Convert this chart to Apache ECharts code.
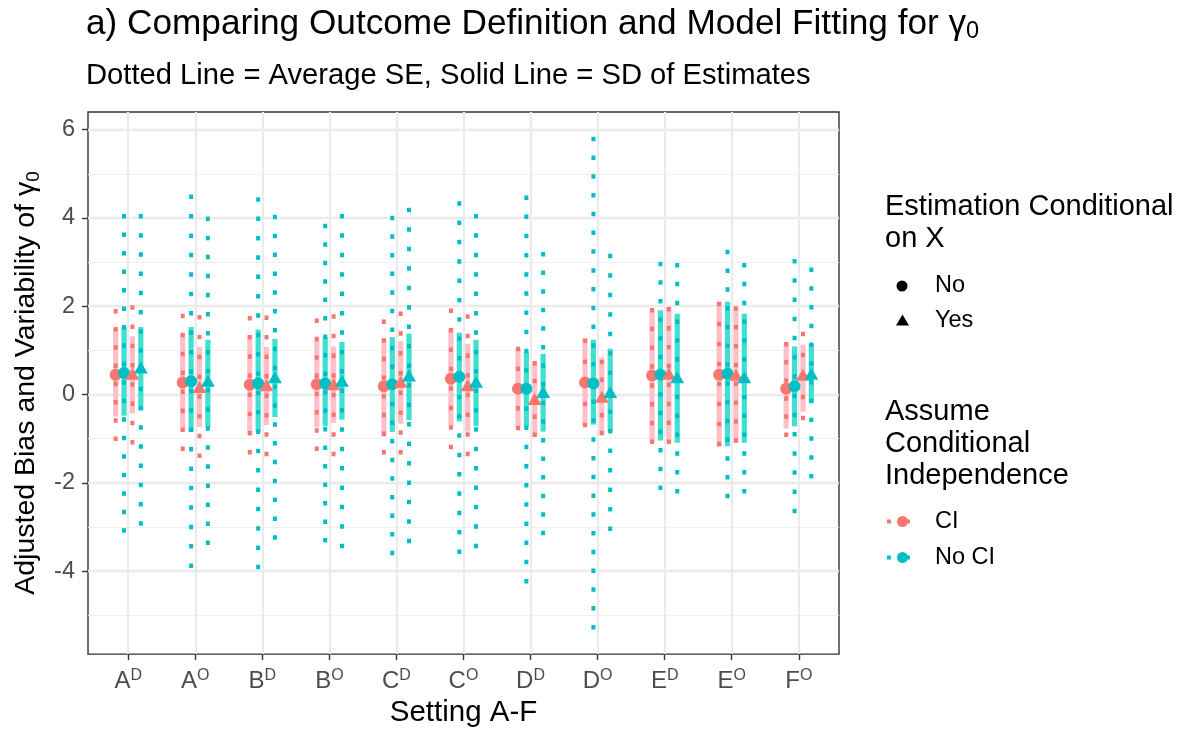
<!DOCTYPE html>
<html>
<head>
<meta charset="utf-8">
<title>Comparing Outcome Definition and Model Fitting</title>
<script src="https://cdn.jsdelivr.net/npm/echarts@6/dist/echarts.min.js"></script>
<style>
  html, body { margin: 0; padding: 0; background: #ffffff; }
  #main { width: 1182px; height: 733px; }
</style>
</head>
<body>
<div id="main"></div>
<script>
// Settings on the x axis: letter plus superscript (D / O)
const settingLetters = ['A', 'A', 'B', 'B', 'C', 'C', 'D', 'D', 'E', 'E', 'F'];
const settingMarks   = ['D', 'O', 'D', 'O', 'D', 'O', 'D', 'O', 'D', 'O', 'O'];

// y-axis tick labels and minor grid positions
const yTicks = [-4, -2, 0, 2, 4, 6];
const yMinorTicks = [-5, -3, -1, 1, 3, 5];

// CI, estimation not conditional on X
const ciNoEst  = [0.45, 0.27, 0.22, 0.23, 0.19, 0.36, 0.13, 0.27, 0.43, 0.45, 0.13];
const ciNoSdLo = [-0.50, -0.84, -0.88, -0.74, -0.96, -0.72, -0.76, -0.72, -1.08, -1.17, -0.77];
const ciNoSdHi = [1.50, 1.38, 1.34, 1.27, 1.26, 1.50, 1.05, 1.27, 1.94, 2.10, 1.17];
const ciNoSeLo = [-1.05, -1.28, -1.36, -1.28, -1.36, -1.24, -0.81, -0.74, -1.12, -1.17, -0.96];
const ciNoSeHi = [1.94, 1.83, 1.78, 1.72, 1.70, 1.95, 1.08, 1.27, 1.96, 2.10, 1.19];

// No CI, estimation not conditional on X
const nociNoEst  = [0.49, 0.30, 0.25, 0.25, 0.23, 0.40, 0.13, 0.25, 0.45, 0.47, 0.19];
const nociNoSdLo = [-0.48, -0.84, -0.84, -0.72, -0.85, -0.61, -0.72, -0.68, -1.04, -1.17, -0.72];
const nociNoSdHi = [1.53, 1.53, 1.47, 1.30, 1.30, 1.40, 0.97, 1.24, 1.91, 2.10, 1.09];
const nociNoSeLo = [-3.13, -3.93, -3.96, -3.35, -3.64, -3.61, -4.28, -5.32, -2.16, -2.35, -2.69];
const nociNoSeHi = [4.09, 4.53, 4.47, 3.87, 4.05, 4.38, 4.51, 5.84, 3.01, 3.28, 3.07];

// CI, estimation conditional on X
const ciYesEst  = [0.47, 0.17, 0.21, 0.23, 0.29, 0.21, -0.10, -0.05, 0.47, 0.45, 0.45];
const ciYesSdLo = [-0.43, -0.74, -0.69, -0.64, -0.66, -0.84, -0.96, -0.92, -1.09, -1.09, -0.39];
const ciYesSdHi = [1.32, 1.08, 1.08, 1.09, 1.21, 1.15, 0.73, 0.84, 1.98, 1.98, 1.13];
const ciYesSeLo = [-1.13, -1.44, -1.40, -1.40, -1.36, -1.40, -0.96, -0.92, -1.12, -1.09, -0.58];
const ciYesSeHi = [2.02, 1.80, 1.79, 1.82, 1.88, 1.82, 0.76, 0.79, 1.98, 2.00, 1.42];

// No CI, estimation conditional on X
const nociYesEst  = [0.61, 0.31, 0.39, 0.31, 0.43, 0.29, 0.06, 0.06, 0.39, 0.39, 0.47];
const nociYesSdLo = [-0.35, -0.74, -0.51, -0.57, -0.58, -0.72, -0.84, -0.84, -1.09, -1.09, -0.18];
const nociYesSdHi = [1.53, 1.24, 1.26, 1.19, 1.38, 1.24, 0.92, 1.04, 1.83, 1.83, 1.15];
const nociYesSeLo = [-2.97, -3.41, -3.29, -3.48, -3.37, -3.48, -3.19, -3.09, -2.24, -2.24, -1.90];
const nociYesSeHi = [4.09, 4.03, 4.07, 4.09, 4.23, 4.09, 3.23, 3.19, 2.98, 2.98, 2.88];

const FONT = '"Liberation Sans", Arial, Helvetica, sans-serif';
const RED = '#F8766D';
const TEAL = '#00BFC4';
const Y_MIN = -5.88;
const Y_MAX = 6.40;
const DASH = 4.5;      // dotted-line dash length (px)
const PERIOD = 19;     // nominal dash + gap (px)

// Dodged groups within each setting
const groups = [
  { name: 'CI / No',     est: ciNoEst,    sd: [ciNoSdLo, ciNoSdHi],       se: [ciNoSeLo, ciNoSeHi],       offset: -0.1875, color: RED,  band: '#FFC0CB', symbol: 'circle' },
  { name: 'No CI / No',  est: nociNoEst,  sd: [nociNoSdLo, nociNoSdHi],   se: [nociNoSeLo, nociNoSeHi],   offset: -0.0625, color: TEAL, band: '#40E0D0', symbol: 'circle' },
  { name: 'CI / Yes',    est: ciYesEst,   sd: [ciYesSdLo, ciYesSdHi],     se: [ciYesSeLo, ciYesSeHi],     offset:  0.0625, color: RED,  band: '#FFC0CB', symbol: 'triangle' },
  { name: 'No CI / Yes', est: nociYesEst, sd: [nociYesSdLo, nociYesSdHi], se: [nociYesSeLo, nociYesSeHi], offset:  0.1875, color: TEAL, band: '#40E0D0', symbol: 'triangle' }
];

// Dash pattern stretched so that both ends of a dotted segment carry a dash
function fittedDash(len) {
  if (len <= DASH * 2) return null;
  const n = Math.max(1, Math.round((len - DASH) / PERIOD));
  return [DASH, (len - DASH) / n - DASH];
}

// Vertical range segment drawn through the grid's scales
function rangeSeries(name, offset, lo, hi, color, width, dotted, z) {
  return {
    type: 'custom',
    name: name,
    silent: true,
    z: z,
    data: lo.map((l, i) => [i + offset, l, hi[i]]),
    encode: { x: 0, y: [1, 2] },
    renderItem: function (params, api) {
      const top = api.coord([api.value(0), api.value(2)]);
      const bottom = api.coord([api.value(0), api.value(1)]);
      const len = Math.abs(bottom[1] - top[1]);
      return {
        type: 'line',
        shape: { x1: top[0], y1: top[1], x2: bottom[0], y2: bottom[1] },
        style: {
          stroke: color, lineWidth: width, lineCap: 'butt', fill: null,
          lineDash: dotted ? fittedDash(len) : null
        }
      };
    }
  };
}

const seriesList = [];
groups.forEach(g => seriesList.push(rangeSeries(g.name + ' SD', g.offset, g.sd[0], g.sd[1], g.band, 5.2, false, 2)));
groups.forEach(g => seriesList.push(rangeSeries(g.name + ' SE', g.offset, g.se[0], g.se[1], g.color, 4, true, 3)));
groups.forEach(g => seriesList.push({
  type: 'scatter',
  name: g.name,
  silent: true,
  z: 4,
  symbol: g.symbol,
  symbolSize: g.symbol === 'circle' ? 12 : [14, 12],
  itemStyle: { color: g.color, opacity: 1 },
  data: g.est.map((v, i) => [i + g.offset, v])
}));

const xPositions = settingLetters.map((_, i) => i);

const chartOption = {
  animation: false,
  backgroundColor: '#ffffff',
  textStyle: { fontFamily: FONT },
  title: [
    {
      left: 86, top: 4, padding: 0,
      text: '{t|a) Comparing Outcome Definition and Model Fitting for }{t|γ}{s|0}',
      textStyle: {
        fontWeight: 'normal',
        rich: {
          t: { fontFamily: FONT, fontSize: 35.2, fontWeight: 'normal', lineHeight: 40, verticalAlign: 'middle', color: '#000' },
          s: { fontFamily: FONT, fontSize: 23.5, fontWeight: 'normal', lineHeight: 22, verticalAlign: 'bottom', color: '#000' }
        }
      }
    },
    {
      left: 86, top: 59, padding: 0,
      text: 'Dotted Line = Average SE, Solid Line = SD of Estimates',
      textStyle: { fontFamily: FONT, fontSize: 29.2, lineHeight: 34, fontWeight: 'normal', color: '#000' }
    }
  ],
  grid: {
    left: 88, top: 112, width: 751, height: 543,
    show: true, borderColor: '#333333', borderWidth: 1.4, backgroundColor: '#ffffff'
  },
  xAxis: {
    type: 'value',
    min: -0.6, max: 10.6,
    name: 'Setting A-F',
    nameLocation: 'middle',
    nameGap: 42,
    nameTextStyle: { fontFamily: FONT, fontSize: 29.5, color: '#000' },
    axisLine: { show: false, onZero: false },
    axisTick: { show: true, length: 6, customValues: xPositions, lineStyle: { color: '#333333', width: 1.4 } },
    axisLabel: {
      customValues: xPositions,
      margin: 13,
      formatter: function (v) {
        const i = Math.round(v);
        return '{b|' + settingLetters[i] + '}{s|' + settingMarks[i] + '}';
      },
      rich: {
        b: { fontFamily: FONT, fontSize: 24, lineHeight: 28, verticalAlign: 'middle', color: '#4D4D4D' },
        s: { fontFamily: FONT, fontSize: 16, lineHeight: 14, verticalAlign: 'top', color: '#4D4D4D' }
      }
    },
    splitLine: { show: true, lineStyle: { color: '#EBEBEB', width: 2.3 } }
  },
  yAxis: [
    {
      type: 'value',
      min: Y_MIN, max: Y_MAX,
      name: '{t|Adjusted Bias and Variability of }{t|γ}{s|0}',
      nameLocation: 'middle',
      nameRotate: 90,
      nameGap: 40,
      nameTextStyle: {
        rich: {
          t: { fontFamily: FONT, fontSize: 28.5, lineHeight: 34, verticalAlign: 'middle', color: '#000' },
          s: { fontFamily: FONT, fontSize: 19, lineHeight: 20, verticalAlign: 'bottom', color: '#000' }
        }
      },
      axisLine: { show: false, onZero: false },
      axisTick: { show: true, length: 6, customValues: yTicks, lineStyle: { color: '#333333', width: 1.4 } },
      axisLabel: { customValues: yTicks, margin: 13, fontFamily: FONT, fontSize: 23.5, color: '#4D4D4D' },
      splitLine: { show: true, lineStyle: { color: '#EBEBEB', width: 2.3 } }
    },
    {
      type: 'value',
      min: Y_MIN, max: Y_MAX,
      position: 'left',
      axisLine: { show: false, onZero: false },
      axisTick: { show: false, customValues: yMinorTicks },
      axisLabel: { show: false, customValues: yMinorTicks },
      splitLine: { show: true, lineStyle: { color: '#EFEFEF', width: 1.2 } }
    }
  ],
  graphic: [
    // Shape legend
    { type: 'text', left: 885, top: 192, style: { text: 'Estimation Conditional', font: '29px ' + FONT, fill: '#000' } },
    { type: 'text', left: 885, top: 224, style: { text: 'on X', font: '29px ' + FONT, fill: '#000' } },
    { type: 'circle', shape: { cx: 902, cy: 286, r: 5.5 }, style: { fill: '#000' } },
    { type: 'text', left: 935, top: 274, style: { text: 'No', font: '23.5px ' + FONT, fill: '#000' } },
    { type: 'polygon', shape: { points: [[896, 325.5], [909, 325.5], [902.5, 314.5]] }, style: { fill: '#000' } },
    { type: 'text', left: 935, top: 309, style: { text: 'Yes', font: '23.5px ' + FONT, fill: '#000' } },
    // Colour legend
    { type: 'text', left: 885, top: 397, style: { text: 'Assume', font: '29px ' + FONT, fill: '#000' } },
    { type: 'text', left: 885, top: 429, style: { text: 'Conditional', font: '29px ' + FONT, fill: '#000' } },
    { type: 'text', left: 885, top: 461, style: { text: 'Independence', font: '29px ' + FONT, fill: '#000' } },
    { type: 'line', shape: { x1: 887, y1: 521.5, x2: 912, y2: 521.5 }, style: { stroke: RED, lineWidth: 4, lineDash: [4, 15] } },
    { type: 'circle', shape: { cx: 902.5, cy: 521.5, r: 5.5 }, style: { fill: RED } },
    { type: 'text', left: 935, top: 510, style: { text: 'CI', font: '23.5px ' + FONT, fill: '#000' } },
    { type: 'line', shape: { x1: 887, y1: 557.5, x2: 912, y2: 557.5 }, style: { stroke: TEAL, lineWidth: 4, lineDash: [4, 15] } },
    { type: 'circle', shape: { cx: 902.5, cy: 557.5, r: 5.5 }, style: { fill: TEAL } },
    { type: 'text', left: 935, top: 546, style: { text: 'No CI', font: '23.5px ' + FONT, fill: '#000' } }
  ],
  series: seriesList
};

const myChart = echarts.init(document.getElementById('main'));
myChart.setOption(chartOption);
</script>
</body>
</html>
